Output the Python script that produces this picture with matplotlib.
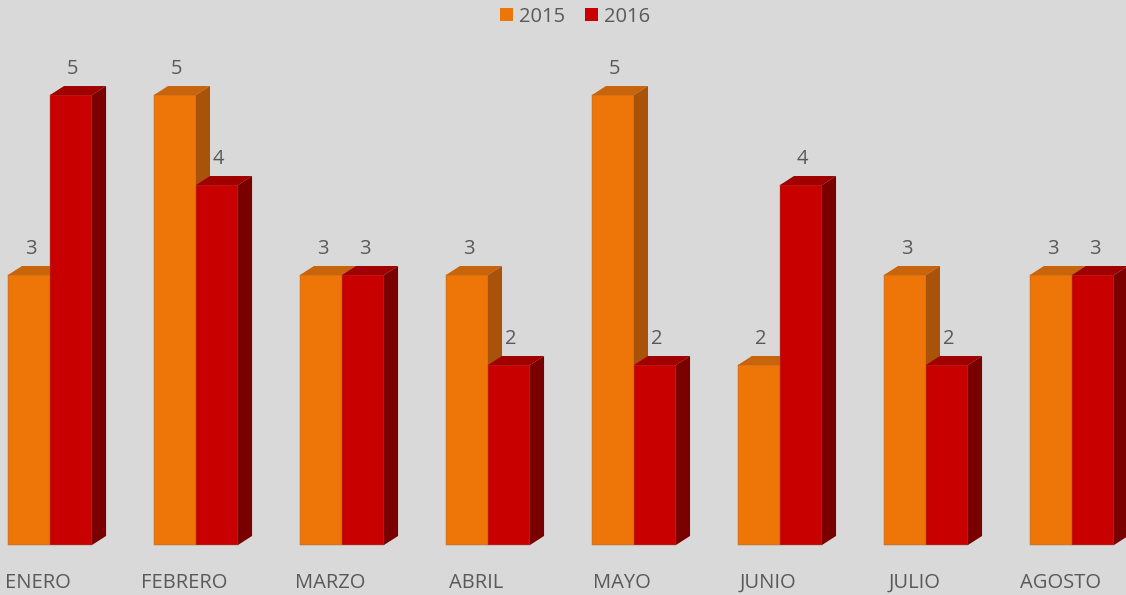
import matplotlib.pyplot as plt
from matplotlib.patches import Polygon, Patch

months = ["ENERO", "FEBRERO", "MARZO", "ABRIL", "MAYO", "JUNIO", "JULIO", "AGOSTO"]
vals_2015 = [3, 5, 3, 3, 5, 2, 3, 3]
vals_2016 = [5, 4, 3, 2, 2, 4, 2, 3]

BG = "#d9d9d9"
TXT = "#595959"
# front, top, side shades
ORANGE = ("#ee7609", "#c8640c", "#a9520a")
RED = ("#c80000", "#a00000", "#7a0000")

plt.rcParams["font.family"] = ["Open Sans", "DejaVu Sans"]

fig = plt.figure(figsize=(11.26, 5.95), dpi=100)
fig.patch.set_facecolor(BG)
ax = fig.add_axes([0, 0, 1, 1])
ax.set_facecolor(BG)
ax.set_xlim(-0.3425, 7.370)
ax.set_ylim(-0.556, 6.056)
ax.axis("off")

w = 0.288      # bar width (category units)
dx, dy = 0.096, 0.10   # fake 3D depth


def bar3d(xs, heights, shades):
    bars = ax.bar(xs, heights, width=w, color=shades[0], edgecolor="#8c6a50",
                  linewidth=0.3, zorder=2)
    for b in bars:
        x0, x1, h = b.get_x(), b.get_x() + b.get_width(), b.get_height()
        top = Polygon([(x0, h), (x0 + dx, h + dy), (x1 + dx, h + dy), (x1, h)],
                      closed=True, fc=shades[1], ec="none", zorder=2)
        side = Polygon([(x1, 0), (x1 + dx, dy), (x1 + dx, h + dy), (x1, h)],
                       closed=True, fc=shades[2], ec="none", zorder=2)
        ax.add_patch(top)
        ax.add_patch(side)
        ax.text((x0 + x1) / 2 + 0.01, h + dy + 0.08, f"{h:g}", ha="center",
                va="bottom", fontsize=14.5, color=TXT)
    return bars


idx = list(range(len(months)))
bar3d([i - w / 2 for i in idx], vals_2015, ORANGE)
bar3d([i + w / 2 for i in idx], vals_2016, RED)

for i, m in enumerate(months):
    ax.text(i - 0.08, -0.42, m, ha="center", va="center", fontsize=14.5, color=TXT)

handles = [Patch(fc=ORANGE[0], label="2015"), Patch(fc=RED[0], label="2016")]
fig.legend(handles=handles, loc="center", bbox_to_anchor=(0.5107, 0.972), ncol=2,
           frameon=False, fontsize=14.5, labelcolor=TXT, handlelength=0.65,
           handleheight=0.65, handletextpad=0.3, columnspacing=1.0)

fig.savefig("out.png", dpi=100, facecolor=BG)
